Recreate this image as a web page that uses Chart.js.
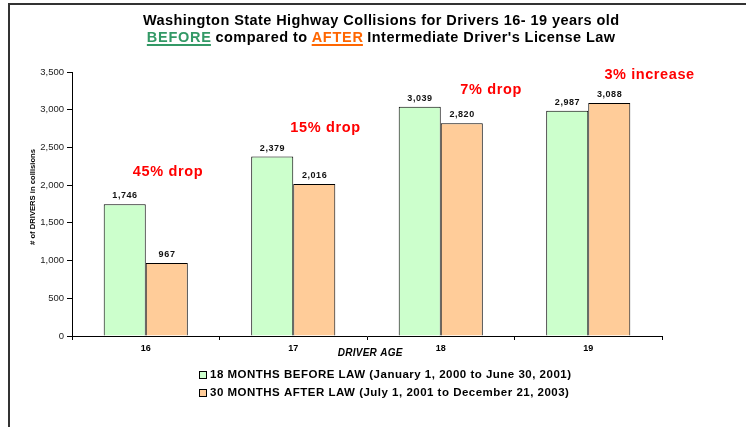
<!DOCTYPE html>
<html>
<head>
<meta charset="utf-8">
<script src="https://cdn.jsdelivr.net/npm/chart.js@4/dist/chart.umd.min.js"></script>
<style>
  html, body { margin: 0; padding: 0; background: #fff; }
  #wrap { width: 746px; height: 427px; position: relative; }
</style>
</head>
<body>
<div id="wrap"><canvas id="barChart"></canvas></div>
<script>
// chart data
var ages = ['16', '17', '18', '19'];
var beforeLaw = [1746, 2379, 3039, 2987];
var afterLaw = [967, 2016, 2820, 3088];
var yTicks = [0, 500, 1000, 1500, 2000, 2500, 3000, 3500];
var beforeLabel = '18 MONTHS BEFORE LAW (January 1, 2000 to June 30, 2001)';
var afterLabel = '30 MONTHS AFTER LAW (July 1, 2001 to December 21, 2003)';
// change notes: text, value where it sits, px shift right of the category centre
var noteText = ['45% drop', '15% drop', '7% drop', '3% increase'];
var noteAt = [2175, 2759, 3263, 3462];
var noteShift = [22, 32, 50, 61];

var FONT = 'Arial, "Liberation Sans", sans-serif';

// draws text with a bit of letter spacing so it gets as wide as the original
function wideText(ctx, text, x, y, ratio, align) {
    ctx.letterSpacing = '0px';
    var w = ctx.measureText(text).width;
    var sp = (w * ratio - w) / Math.max(text.length - 1, 1);
    ctx.letterSpacing = sp + 'px';
    var full = w + sp * (text.length - 1);
    var left = x;
    if (align === 'center') left = x - full / 2;
    ctx.textAlign = 'left';
    ctx.fillText(text, left, y);
    ctx.letterSpacing = '0px';
    return full;
}

var extras = {
    id: 'extras',
    beforeDraw: function(chart) {
        var ctx = chart.ctx;
        ctx.save();
        ctx.fillStyle = '#fff';
        ctx.fillRect(0, 0, chart.width, chart.height);
        ctx.strokeStyle = '#333';
        ctx.lineWidth = 2;
        ctx.beginPath();
        ctx.moveTo(9, 427);
        ctx.lineTo(9, 4);
        ctx.lineTo(746, 4);
        ctx.stroke();
        ctx.restore();
    },
    afterDraw: function(chart) {
        var ctx = chart.ctx;
        var x = chart.scales.x, y = chart.scales.y;
        ctx.save();

        // title
        ctx.fillStyle = '#000';
        ctx.textBaseline = 'alphabetic';
        ctx.font = 'bold 14.5px ' + FONT;
        var tr = 1.06;
        wideText(ctx, 'Washington State Highway Collisions for Drivers 16- 19 years old', 381, 25, tr, 'center');
        var parts = [['BEFORE', '#339966', true], [' compared to ', '#000', false],
                     ['AFTER', '#FF6600', true], [' Intermediate Driver\'s License Law', '#000', false]];
        var total = 0;
        parts.forEach(function(p) { total += ctx.measureText(p[0]).width * tr; });
        var px = 381 - total / 2;
        parts.forEach(function(p) {
            ctx.fillStyle = p[1];
            var w = wideText(ctx, p[0], px, 42, tr, 'left');
            if (p[2]) ctx.fillRect(px, 44, w, 2);
            px += ctx.measureText(p[0]).width * tr;
        });

        // value labels
        ctx.fillStyle = '#111';
        ctx.font = 'bold 9px ' + FONT;
        chart.data.datasets.forEach(function(ds, i) {
            chart.getDatasetMeta(i).data.forEach(function(bar, j) {
                wideText(ctx, ds.data[j].toLocaleString('en-US'), bar.x, bar.y - 6, 1.1, 'center');
            });
        });

        // notes
        ctx.fillStyle = '#FF0000';
        ctx.font = 'bold 14.5px ' + FONT;
        ctx.textBaseline = 'middle';
        noteText.forEach(function(t, i) {
            wideText(ctx, t, x.getPixelForValue(i) + noteShift[i], y.getPixelForValue(noteAt[i]), 1.07, 'center');
        });

        // axis titles
        ctx.fillStyle = '#000';
        ctx.font = 'italic bold 10px ' + FONT;
        wideText(ctx, 'DRIVER AGE', 370, 353, 1.04, 'center');
        ctx.save();
        ctx.translate(33, 197);
        ctx.rotate(-Math.PI / 2);
        ctx.font = 'bold 7.5px ' + FONT;
        ctx.textAlign = 'center';
        var yt = '# of DRIVERS in collisions';
        var sc = 96 / ctx.measureText(yt).width;
        ctx.scale(sc, 1);
        ctx.fillText(yt, 0, 0);
        ctx.restore();

        // legend
        ctx.font = 'bold 11.5px ' + FONT;
        ctx.textBaseline = 'middle';
        var rows = [beforeLabel, afterLabel];
        chart.data.datasets.forEach(function(ds, i) {
            var ly = 375 + i * 18;
            ctx.fillStyle = ds.backgroundColor;
            ctx.fillRect(199.5, ly - 3.5, 7, 7);
            ctx.strokeStyle = '#000';
            ctx.lineWidth = 1;
            ctx.strokeRect(199.5, ly - 3.5, 7, 7);
            ctx.fillStyle = '#000';
            wideText(ctx, rows[i], 210, ly, 1.08, 'left');
        });
        ctx.restore();
    }
};

var barChart = document.getElementById('barChart').getContext('2d');
var myBarChart = new Chart(barChart, {
    type: 'bar',
    data: {
        labels: ages,
        datasets: [{
            label: beforeLabel,
            data: beforeLaw,
            backgroundColor: '#CCFFCC',
            borderColor: '#000',
            borderWidth: 1,
            borderSkipped: 'bottom'
        }, {
            label: afterLabel,
            data: afterLaw,
            backgroundColor: '#FFCC99',
            borderColor: '#000',
            borderWidth: 1,
            borderSkipped: 'bottom'
        }]
    },
    options: {
        responsive: true,
        maintainAspectRatio: false,
        animation: false,
        categoryPercentage: 0.57,
        barPercentage: 1.0,
        layout: {
            padding: { left: 0, right: 84, top: 72, bottom: 0 }
        },
        plugins: {
            legend: { display: false },
            tooltip: { enabled: false }
        },
        scales: {
            x: {
                afterFit: function(scale) { scale.height = 91; },
                grid: { drawOnChartArea: false, drawTicks: true, tickLength: 4, color: '#000', offset: true },
                border: { display: true, color: '#000', width: 1 },
                ticks: { color: '#000', font: { family: FONT, size: 9, weight: 'bold' }, padding: 3 }
            },
            y: {
                min: 0,
                max: 3500,
                afterFit: function(scale) { scale.width = 72; },
                afterBuildTicks: function(scale) {
                    scale.ticks = yTicks.map(function(v) { return { value: v }; });
                },
                grid: { drawOnChartArea: false, drawTicks: true, tickLength: 5, color: '#000' },
                border: { display: true, color: '#000', width: 1 },
                ticks: {
                    color: '#222',
                    padding: 3,
                    font: { family: FONT, size: 9.5 },
                    callback: function(v) { return v.toLocaleString('en-US'); }
                }
            }
        }
    },
    plugins: [extras]
});
</script>
</body>
</html>
